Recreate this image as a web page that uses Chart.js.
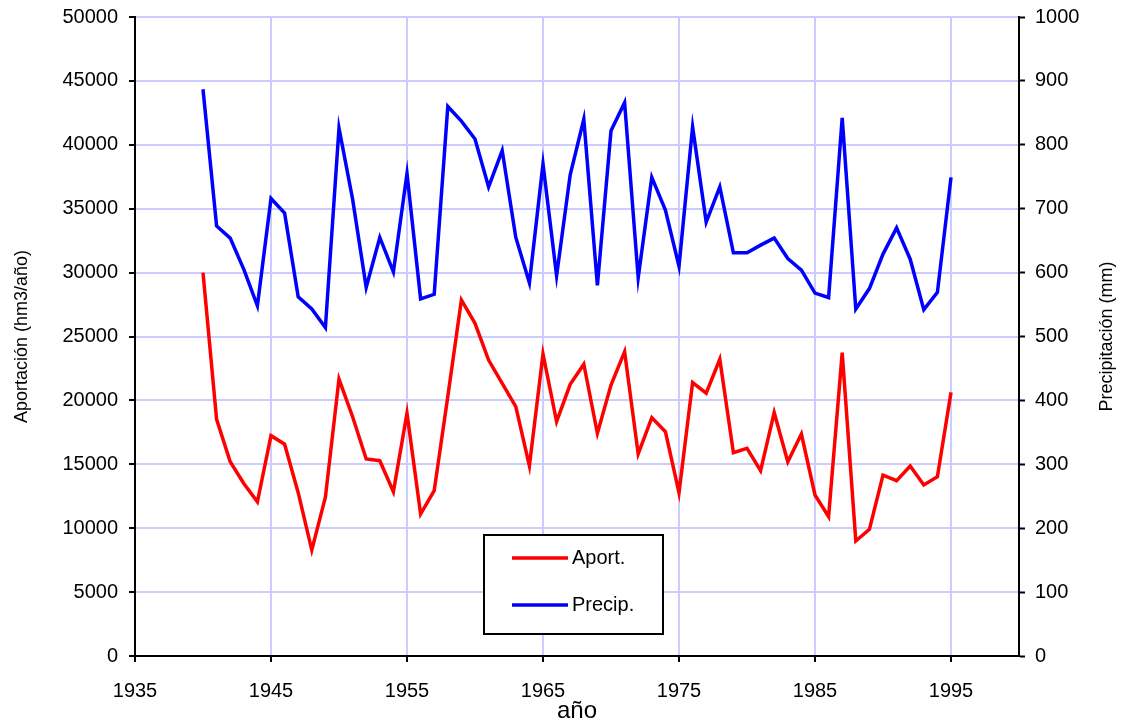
<!DOCTYPE html>
<html><head><meta charset="utf-8">
<script src="https://cdn.jsdelivr.net/npm/chart.js@4.4.0/dist/chart.umd.min.js"></script>
<style>html,body{margin:0;padding:0;background:#fff;overflow:hidden}#wrap{width:1125px;height:722px;position:relative}</style>
</head><body><div id="wrap"><canvas id="c" width="1125" height="722"></canvas></div>
<script>
const years = [1940,1941,1942,1943,1944,1945,1946,1947,1948,1949,1950,1951,1952,1953,1954,1955,1956,1957,1958,1959,1960,1961,1962,1963,1964,1965,1966,1967,1968,1969,1970,1971,1972,1973,1974,1975,1976,1977,1978,1979,1980,1981,1982,1983,1984,1985,1986,1987,1988,1989,1990,1991,1992,1993,1994,1995];
const aport = [30000,18520,15200,13500,12070,17240,16570,12780,8290,12420,21670,18720,15420,15280,12860,18990,11110,12940,20300,27860,26030,23160,21340,19510,14870,23630,18340,21260,22830,17430,21200,23810,15810,18650,17550,12780,21390,20560,23220,15910,16250,14500,19040,15200,17370,12600,10900,23730,9000,9910,14160,13720,14870,13380,14030,20630];
const precip = [887,673,654,605,548,716,693,562,543,514,826,715,577,655,601,755,559,566,860,837,809,734,791,655,584,770,595,753,840,580,822,866,592,749,698,610,828,679,734,631,631,643,654,622,604,568,561,842,543,575,629,670,621,542,569,749];
const xTicks = [1935,1945,1955,1965,1975,1985,1995];
const leftTicks = [0,5000,10000,15000,20000,25000,30000,35000,40000,45000,50000];
const rightTicks = [0,100,200,300,400,500,600,700,800,900,1000];
const seriesNames = ['Aport.','Precip.'];
const xTitle = 'año';
const leftTitle = 'Aportación (hm3/año)';
const rightTitle = 'Precipitación (mm)';

const FONT = 'Liberation Sans, Arial, sans-serif';
const gridCol = 'rgb(204,204,255)';

const legendPlugin = {
  id: 'boxLegend',
  afterDraw(chart) {
    const ctx = chart.ctx;
    const x0 = 484, y0 = 535, w = 179, h = 99;
    ctx.save();
    ctx.fillStyle = '#fff';
    ctx.fillRect(x0, y0, w, h);
    ctx.strokeStyle = '#000';
    ctx.lineWidth = 2;
    ctx.strokeRect(x0, y0, w, h);
    ctx.font = '20px ' + FONT;
    ctx.textBaseline = 'middle';
    chart.data.datasets.forEach((ds, i) => {
      const yy = y0 + 23 + i * 47;
      ctx.strokeStyle = ds.borderColor;
      ctx.lineWidth = 3.5;
      ctx.beginPath();
      ctx.moveTo(x0 + 28, yy);
      ctx.lineTo(x0 + 84, yy);
      ctx.stroke();
      ctx.fillStyle = '#000';
      ctx.fillText(ds.label, x0 + 88, yy);
    });
    const a = chart.chartArea;
    ctx.save();
    ctx.translate(1107, (a.top + a.bottom) / 2);
    ctx.rotate(-Math.PI / 2);
    ctx.font = '18px ' + FONT;
    ctx.textAlign = 'center';
    ctx.textBaseline = 'middle';
    ctx.fillStyle = '#000';
    ctx.fillText(rightTitle, 0, 0);
    ctx.restore();
    ctx.restore();
  }
};

const noPadV = s => { s.paddingTop = 0; s.paddingBottom = 0; };

new Chart(document.getElementById('c'), {
  type: 'line',
  data: {
    datasets: [
      { label: seriesNames[0], data: years.map((y, i) => ({x: y, y: aport[i]})), borderColor: 'rgb(255,0,0)', backgroundColor: 'rgb(255,0,0)', borderWidth: 3.5, pointRadius: 0, tension: 0, yAxisID: 'y', borderJoinStyle: 'miter' },
      { label: seriesNames[1], data: years.map((y, i) => ({x: y, y: precip[i]})), borderColor: 'rgb(0,0,255)', backgroundColor: 'rgb(0,0,255)', borderWidth: 3.5, pointRadius: 0, tension: 0, yAxisID: 'y1', borderJoinStyle: 'miter' }
    ]
  },
  options: {
    responsive: false,
    animation: false,
    devicePixelRatio: 1,
    layout: { padding: { top: 17, left: 0, right: 0, bottom: 0 } },
    plugins: { legend: { display: false }, tooltip: { enabled: false } },
    scales: {
      x: {
        type: 'linear', min: 1935, max: 2000,
        afterBuildTicks: s => { s.ticks = xTicks.map(v => ({value: v})); },
        afterFit: s => { s.height = 66; s.paddingLeft = 0; s.paddingRight = 0; },
        ticks: { color: '#000', font: { family: FONT, size: 20 }, padding: 17, maxRotation: 0, autoSkip: false, callback: v => String(v) },
        grid: { color: gridCol, lineWidth: 2, tickColor: '#000', tickLength: 6, tickWidth: 2 },
        border: { color: '#000', width: 2 },
        title: { display: true, text: xTitle, color: '#000', font: { family: FONT, size: 24 }, padding: { top: 0, bottom: -4 } }
      },
      y: {
        type: 'linear', position: 'left', min: 0, max: 50000,
        afterBuildTicks: s => { s.ticks = leftTicks.map(v => ({value: v})); },
        afterFit: s => { s.width = 135; noPadV(s); },
        ticks: { color: '#000', font: { family: FONT, size: 20 }, padding: 11, callback: v => String(v) },
        grid: { color: gridCol, lineWidth: 2, tickColor: '#000', tickLength: 6, tickWidth: 2 },
        border: { color: '#000', width: 2 },
        title: { display: true, text: leftTitle, color: '#000', font: { family: FONT, size: 18 }, padding: { top: 11, bottom: 0 } }
      },
      y1: {
        type: 'linear', position: 'right', min: 0, max: 1000,
        afterBuildTicks: s => { s.ticks = rightTicks.map(v => ({value: v})); },
        afterFit: s => { s.width = 106; noPadV(s); },
        ticks: { color: '#000', font: { family: FONT, size: 20 }, padding: 10, callback: v => String(v) },
        grid: { drawOnChartArea: false, color: '#000', tickColor: '#000', tickLength: 6, tickWidth: 2 },
        border: { color: '#000', width: 2 },
        title: { display: false }
      }
    }
  },
  plugins: [legendPlugin]
});
</script>
</body></html>
